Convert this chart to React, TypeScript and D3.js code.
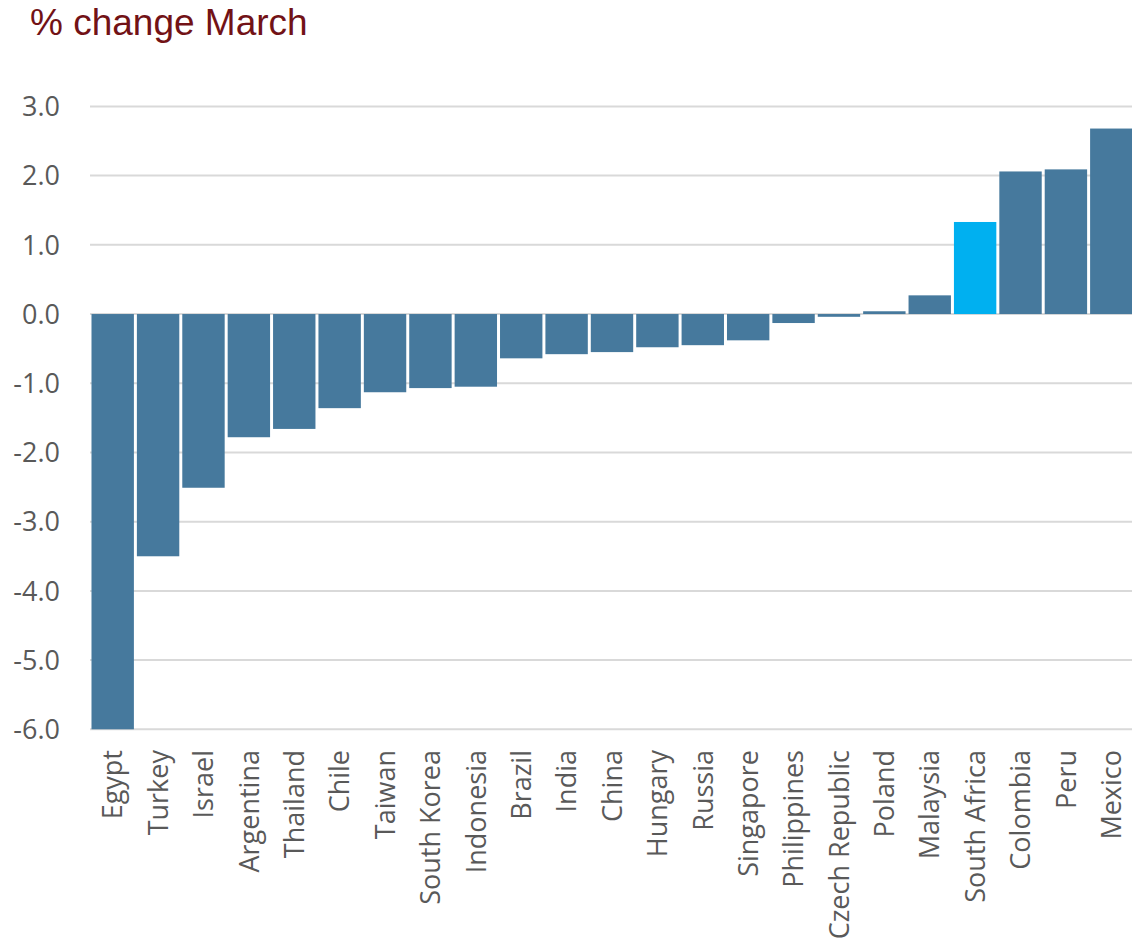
import React from "react";
import * as d3 from "d3";

const countries = [
  "Egypt", "Turkey", "Israel", "Argentina", "Thailand", "Chile", "Taiwan",
  "South Korea", "Indonesia", "Brazil", "India", "China", "Hungary", "Russia",
  "Singapore", "Philippines", "Czech Republic", "Poland", "Malaysia",
  "South Africa", "Colombia", "Peru", "Mexico",
];

const changes = [
  -6.0, -3.5, -2.51, -1.78, -1.66, -1.36, -1.13,
  -1.07, -1.05, -0.64, -0.58, -0.55, -0.48, -0.45,
  -0.38, -0.13, -0.04, 0.04, 0.27,
  1.33, 2.06, 2.09, 2.68,
];

const highlighted = ["South Africa"];

const yTicks = [3, 2, 1, 0, -1, -2, -3, -4, -5, -6];

const title = "% change March";

const W = 1132;
const H = 943;

// one decimal, with a plain hyphen for negatives
const fmt = (v: number) => d3.format(".1f")(v).replace("\u2212", "-");

export default function App() {
  const x = d3
    .scaleBand<string>()
    .domain(countries)
    .range([90, 1134])
    .paddingInner(0.066)
    .paddingOuter(0.033);

  const y = d3.scaleLinear().domain([-6, 3]).range([729.3, 106.4]);

  const labelFont = "'Open Sans', sans-serif";

  return (
    <svg
      width={W}
      height={H}
      style={{ position: "absolute", left: 0, top: 0, background: "#fff" }}
    >
      <text
        x={30}
        y={35}
        fontFamily="'Liberation Sans', Arial, sans-serif"
        fontSize={37}
        fill="#721216"
      >
        {title}
      </text>

      {yTicks.map((t) => (
        <g key={t}>
          <line
            x1={90}
            x2={W}
            y1={y(t)}
            y2={y(t)}
            stroke="#D9D9D9"
            strokeWidth={2}
          />
          <text
            x={60}
            y={y(t)}
            dy="0.36em"
            textAnchor="end"
            fontFamily={labelFont}
            fontSize={27}
            fill="#595959"
          >
            {fmt(t)}
          </text>
        </g>
      ))}

      {countries.map((c, i) => {
        const v = changes[i];
        const y0 = y(0);
        const y1 = y(v);
        return (
          <rect
            key={c}
            x={x(c)}
            y={Math.min(y0, y1)}
            width={x.bandwidth()}
            height={Math.abs(y1 - y0)}
            fill={highlighted.includes(c) ? "#00B0F0" : "#46799D"}
          />
        );
      })}

      {countries.map((c) => {
        const cx = (x(c) ?? 0) + x.bandwidth() / 2;
        return (
          <text
            key={c}
            transform={`translate(${cx},750) rotate(-90)`}
            dy="0.36em"
            textAnchor="end"
            fontFamily={labelFont}
            fontSize={27}
            fill="#595959"
          >
            {c}
          </text>
        );
      })}
    </svg>
  );
}
